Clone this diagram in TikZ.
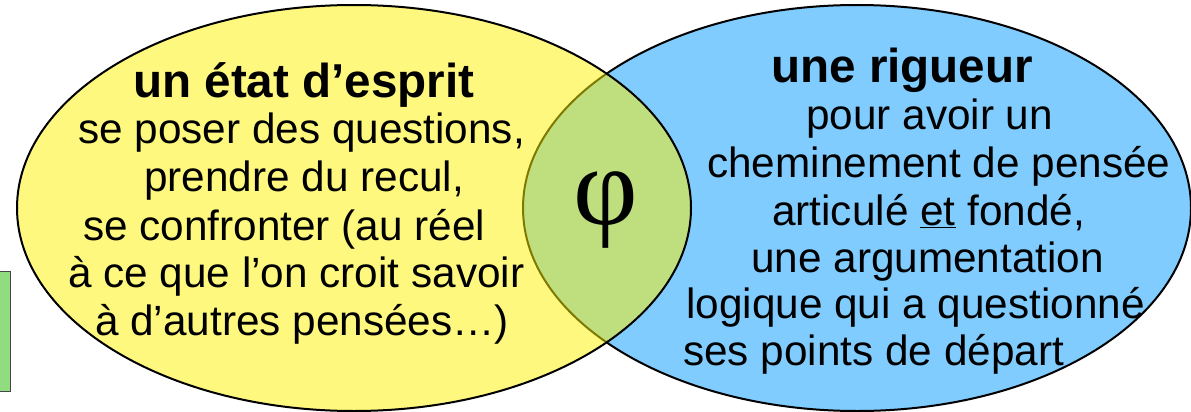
\documentclass[tikz,border=0pt]{standalone}
\usepackage{fontspec}
\setmainfont{Liberation Sans}
\newfontfamily\phifont{Liberation Serif}
\definecolor{bluefill}{RGB}{128,204,255}
\definecolor{rectgreen}{RGB}{146,220,128}
\definecolor{rectedge}{RGB}{70,70,70}
\tikzset{
  bodytxt/.style={anchor=base west, inner sep=0pt, font=\fontsize{42.3}{48.5}\selectfont},
  titletxt/.style={anchor=base west, inner sep=0pt, font=\fontsize{47.6}{52}\selectfont\bfseries},
  ell/.style={draw=black, line width=2pt},
}
\begin{document}
\begin{tikzpicture}[x=1pt,y=-1pt]
\useasboundingbox (0,0) rectangle (1191,412);
% right ellipse (blue) first
\fill[bluefill] (857,208) ellipse [x radius=334, y radius=203];
\draw[ell] (857,208) ellipse [x radius=334, y radius=203];
% left ellipse (yellow, half transparent)
\fill[yellow, fill opacity=0.5] (354,208) ellipse [x radius=337, y radius=203];
\draw[ell] (354,208) ellipse [x radius=337, y radius=203];
% small green rectangle at left
\draw[rectedge, fill=rectgreen, line width=1pt] (-3,271) rectangle (10,391);
% phi
\node[anchor=base, inner sep=0pt, font=\phifont\fontsize{112}{112}\selectfont] (phi) at (606,224) {φ};
% left text
\node[titletxt] (l0) at (133,97) {un état d’esprit};
\node[bodytxt] (l1) at (78,143) {se poser des questions,};
\node[bodytxt] (l2) at (144,191) {prendre du recul,};
\node[bodytxt] (l3) at (83,240) {se confronter (au réel};
\node[bodytxt] (l4) at (68,287) {à ce que l’on croit savoir};
\node[bodytxt] (l5) at (95,335) {à d’autres pensées…)};
% right text
\node[titletxt] (r0) at (771,82) {une rigueur};
\node[bodytxt] (r1) at (806,129) {pour avoir un};
\node[bodytxt] (r2) at (707,177) {cheminement de pensée};
\node[bodytxt] (r3) at (772,225) {articulé \underline{et} fondé,};
\node[bodytxt] (r4) at (751,272) {une argumentation};
\node[bodytxt] (r5) at (686,318) {logique qui a questionné};
\node[bodytxt] (r6) at (683,365) {ses points de départ};
\end{tikzpicture}
\end{document}
